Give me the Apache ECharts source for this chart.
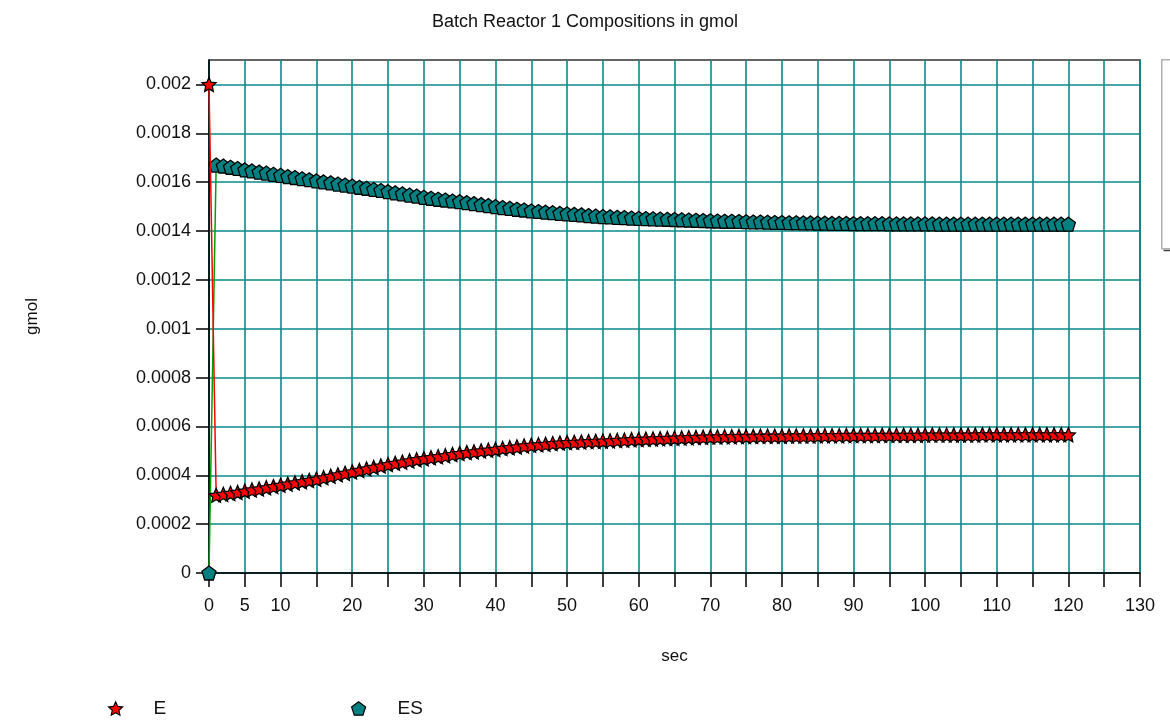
<!DOCTYPE html>
<html>
<head>
<meta charset="utf-8">
<script src="https://cdn.jsdelivr.net/npm/echarts@6/dist/echarts.min.js"></script>
<style>
html,body{margin:0;padding:0;background:#fff;}
#chart{width:1170px;height:721px;}
</style>
</head>
<body>
<div id="chart"></div>
<script>
var chartTitle = 'Batch Reactor 1 Compositions in gmol';
var xName = 'sec';
var yName = 'gmol';
var seriesNames = ['E', 'ES'];

var timeSec = [
  0,1,2,3,4,5,6,7,8,9,
  10,11,12,13,14,15,16,17,18,19,
  20,21,22,23,24,25,26,27,28,29,
  30,31,32,33,34,35,36,37,38,39,
  40,41,42,43,44,45,46,47,48,49,
  50,51,52,53,54,55,56,57,58,59,
  60,61,62,63,64,65,66,67,68,69,
  70,71,72,73,74,75,76,77,78,79,
  80,81,82,83,84,85,86,87,88,89,
  90,91,92,93,94,95,96,97,98,99,
  100,101,102,103,104,105,106,107,108,109,
  110,111,112,113,114,115,116,117,118,119,
  120
];

var valuesE = [
  0.002, 0.000318, 0.000322, 0.000326, 0.00033, 0.000335, 0.00034, 0.000344, 0.000349, 0.000354,
  0.000359, 0.000364, 0.000369, 0.000374, 0.000379, 0.000384, 0.00039, 0.000396, 0.000402, 0.000408,
  0.000414, 0.00042, 0.000426, 0.000432, 0.000438, 0.000444, 0.000449, 0.000454, 0.000459, 0.000464,
  0.000468, 0.000472, 0.000476, 0.00048, 0.000485, 0.000489, 0.000493, 0.000496, 0.0005, 0.000503,
  0.000506, 0.00051, 0.000513, 0.000516, 0.00052, 0.000523, 0.000525, 0.000527, 0.00053, 0.000532,
  0.000534, 0.000535, 0.000536, 0.000538, 0.000539, 0.00054, 0.000541, 0.000543, 0.000544, 0.000546,
  0.000547, 0.000548, 0.000549, 0.00055, 0.000551, 0.000552, 0.000553, 0.000554, 0.000555, 0.000556,
  0.000557, 0.000557, 0.000558, 0.000558, 0.000559, 0.000559, 0.000559, 0.00056, 0.00056, 0.00056,
  0.00056, 0.000561, 0.000561, 0.000561, 0.000561, 0.000562, 0.000562, 0.000562, 0.000562, 0.000563,
  0.000563, 0.000563, 0.000563, 0.000563, 0.000564, 0.000564, 0.000564, 0.000564, 0.000564, 0.000564,
  0.000565, 0.000565, 0.000565, 0.000565, 0.000565, 0.000565, 0.000565, 0.000565, 0.000566, 0.000566,
  0.000566, 0.000566, 0.000566, 0.000566, 0.000566, 0.000566, 0.000566, 0.000566, 0.000566, 0.000566,
  0.000566
];

var valuesES = [
  0, 0.00167, 0.001666, 0.001661, 0.001656, 0.00165, 0.001646, 0.001641, 0.001637, 0.001632,
  0.001628, 0.001623, 0.001619, 0.001614, 0.00161, 0.001605, 0.001601, 0.001597, 0.001592, 0.001588,
  0.001584, 0.001579, 0.001575, 0.00157, 0.001566, 0.001561, 0.001556, 0.001552, 0.001547, 0.001543,
  0.001538, 0.001534, 0.00153, 0.001527, 0.001523, 0.00152, 0.001516, 0.001512, 0.001508, 0.001504,
  0.0015, 0.001496, 0.001493, 0.001489, 0.001486, 0.001482, 0.00148, 0.001477, 0.001475, 0.001472,
  0.00147, 0.001468, 0.001466, 0.001463, 0.001461, 0.001459, 0.001458, 0.001456, 0.001455, 0.001453,
  0.001452, 0.001451, 0.00145, 0.001449, 0.001448, 0.001447, 0.001446, 0.001445, 0.001444, 0.001443,
  0.001442, 0.001441, 0.00144, 0.00144, 0.001439, 0.001438, 0.001437, 0.001437, 0.001436, 0.001435,
  0.001435, 0.001434, 0.001434, 0.001433, 0.001433, 0.001432, 0.001432, 0.001431, 0.001431, 0.001431,
  0.00143, 0.00143, 0.00143, 0.00143, 0.00143, 0.001429, 0.001429, 0.001429, 0.001429, 0.001429,
  0.001429, 0.001429, 0.001428, 0.001428, 0.001428, 0.001428, 0.001428, 0.001428, 0.001428, 0.001428,
  0.001428, 0.001428, 0.001428, 0.001428, 0.001428, 0.001428, 0.001428, 0.001428, 0.001428, 0.001428,
  0.001428
];

var xLabelValues = [0, 5, 10, 20, 30, 40, 50, 60, 70, 80, 90, 100, 110, 120, 130];
var yTickValues = [0, 0.0002, 0.0004, 0.0006, 0.0008, 0.001, 0.0012, 0.0014, 0.0016, 0.0018, 0.002];

function pairs(xs, ys) {
  var out = [];
  for (var i = 0; i < xs.length; i++) out.push([xs[i], ys[i]]);
  return out;
}

var starPath = 'path://M0,-10 L2.8,-3.8 L9.51,-3.09 L4.5,1.5 L5.88,8.09 L0,4.8 L-5.88,8.09 L-4.5,1.5 L-9.51,-3.09 L-2.8,-3.8 Z';
var pentPath = 'path://M0,-10 L9.51,-3.09 L5.88,8.09 L-5.88,8.09 L-9.51,-3.09 Z';

var FONT = 'Liberation Sans, Arial, sans-serif';
var chart = echarts.init(document.getElementById('chart'), null, {renderer: 'canvas'});

chart.setOption({
  backgroundColor: '#ffffff',
  animation: false,
  title: {
    text: chartTitle,
    left: 'center',
    top: 8,
    textStyle: {fontFamily: FONT, fontSize: 18, fontWeight: 'normal', color: '#111'}
  },
  grid: {
    left: 209, right: 30, top: 60, bottom: 148,
    show: true, borderColor: '#333', borderWidth: 1.5, backgroundColor: 'transparent'
  },
  legend: [{
    left: 103, top: 694, itemWidth: 14, itemHeight: 14,
    textStyle: {fontFamily: FONT, fontSize: 19, color: '#111', padding: [0, 0, 0, 26]},
    data: [{name: seriesNames[0], icon: starPath, itemStyle: {color: '#ff0000', borderColor: '#000', borderWidth: 1.2}}]
  }, {
    left: 346, top: 694, itemWidth: 14, itemHeight: 14,
    textStyle: {fontFamily: FONT, fontSize: 19, color: '#111', padding: [0, 0, 0, 27]},
    data: [{name: seriesNames[1], icon: pentPath, itemStyle: {color: '#008080', borderColor: '#000', borderWidth: 1.2}}]
  }],
  xAxis: {
    type: 'value', min: 0, max: 130, interval: 5,
    name: xName, nameLocation: 'middle', nameGap: 75,
    nameTextStyle: {fontFamily: FONT, fontSize: 17, color: '#111'},
    axisLine: {show: true, onZero: false, lineStyle: {color: '#000', width: 1.5}},
    axisTick: {show: true, inside: false, length: 14, lineStyle: {color: '#000', width: 1.5}},
    axisLabel: {
      margin: 24, fontFamily: FONT, fontSize: 18, color: '#111',
      formatter: function (v) { return xLabelValues.indexOf(v) >= 0 ? String(v) : ''; }
    },
    splitLine: {show: true, lineStyle: {color: '#0a8a8a', width: 1.6}}
  },
  yAxis: {
    type: 'value', min: 0, max: 0.0021, interval: 0.0002,
    name: yName, nameLocation: 'middle', nameGap: 168, nameRotate: 90,
    nameTextStyle: {fontFamily: FONT, fontSize: 17, color: '#111'},
    axisLine: {show: true, onZero: false, lineStyle: {color: '#000', width: 1.5}},
    axisTick: {show: true, inside: false, length: 13, customValues: yTickValues, lineStyle: {color: '#000', width: 1.5}},
    axisLabel: {
      margin: 18, fontFamily: FONT, fontSize: 18, color: '#111',
      customValues: yTickValues,
      formatter: function (v) { return v > 0.00205 ? '' : String(+v.toPrecision(4)); }
    },
    splitLine: {show: true, lineStyle: {color: '#0a8a8a', width: 1.6}}
  },
  graphic: [{
    type: 'rect', left: 1161, top: 59, z: 100,
    shape: {x: 0, y: 0, width: 30, height: 189},
    style: {fill: '#fff', stroke: '#b0b0b0', lineWidth: 1.5}
  }, {
    type: 'line', left: 1161, top: 248, z: 101,
    shape: {x1: 0, y1: 0, x2: 30, y2: 0},
    style: {stroke: '#444', lineWidth: 1.5}
  }],
  series: [{
    name: seriesNames[0], type: 'line',
    data: pairs(timeSec, valuesE),
    symbol: starPath, symbolSize: 14, showAllSymbol: true,
    lineStyle: {color: '#ff0000', width: 1.5},
    itemStyle: {color: '#ff0000', borderColor: '#000', borderWidth: 1.3},
    z: 3
  }, {
    name: seriesNames[1], type: 'line',
    data: pairs(timeSec, valuesES),
    symbol: pentPath, symbolSize: 14, showAllSymbol: true,
    lineStyle: {color: '#00a000', width: 1.5},
    itemStyle: {color: '#008080', borderColor: '#000', borderWidth: 1.3},
    z: 2
  }]
});
</script>
</body>
</html>
